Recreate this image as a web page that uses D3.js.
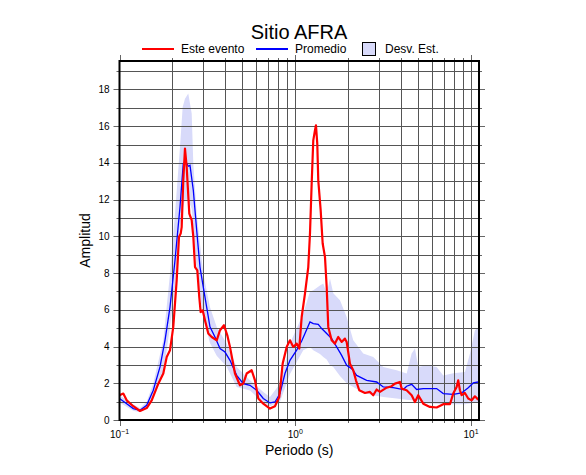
<!DOCTYPE html>
<html>
<head>
<meta charset="utf-8">
<script src="https://cdn.jsdelivr.net/npm/d3@7"></script>
<style>
    body { margin: 0; background: #fff; }
    text { font-family: "Liberation Sans", Arial, Helvetica, sans-serif; }
</style>
</head>
<body>
<div id="chart"></div>
<script>
// Este evento (periodo en s, amplitud)
const eventPeriod = [0.100, 0.1051, 0.1099, 0.1198, 0.1308, 0.1428, 0.1525, 0.1663, 0.1775, 0.1856,
    0.1938, 0.2023, 0.2115, 0.2180, 0.2229, 0.2258, 0.2306, 0.2358, 0.2411, 0.2495,
    0.2575, 0.2630, 0.2689, 0.2771, 0.2843, 0.2896, 0.2973, 0.3064, 0.3200, 0.3346,
    0.3573, 0.3731, 0.3931, 0.4105, 0.4252, 0.4539, 0.4846, 0.5060, 0.5290, 0.5649,
    0.5899, 0.6159, 0.6577, 0.7180, 0.7664, 0.8110, 0.8480, 0.8937, 0.9329, 0.9741,
    1.0185, 1.0539, 1.0875, 1.1356, 1.1858, 1.2125, 1.2398, 1.2661, 1.2947, 1.3115,
    1.3341, 1.3517, 1.3950, 1.4318, 1.4757, 1.5090, 1.5409, 1.6106, 1.6820, 1.7564,
    1.8360, 1.9173, 1.9606, 2.0469, 2.1374, 2.2144, 2.3121, 2.4920, 2.6600, 2.7776,
    2.9040, 3.0325, 3.3112, 3.5351, 3.6909, 3.9405, 4.0290, 4.3022, 4.5935, 4.7969,
    5.0087, 5.3476, 5.8359, 6.3722, 6.9502, 7.5858, 7.9199, 8.2794, 8.4548, 8.6458,
    8.8392, 9.2300, 9.6405, 10.078, 10.524, 10.990];
const eventAmp = [1.35, 1.44, 1.07, 0.75, 0.49, 0.65, 1.07, 1.98, 2.53, 3.43,
    3.80, 5.07, 7.60, 9.97, 10.15, 10.50, 13.05, 14.78, 13.78, 11.24,
    10.88, 9.97, 8.33, 8.15, 6.70, 5.88, 5.97, 5.43, 4.71, 4.52,
    4.34, 4.89, 5.16, 4.61, 3.98, 2.53, 1.89, 1.98, 2.53, 2.71,
    2.16, 1.17, 0.89, 0.62, 0.75, 1.25, 3.07, 3.98, 4.34, 3.98,
    4.16, 3.89, 5.61, 6.88, 8.33, 10.15, 12.88, 15.23, 15.78, 16.05,
    15.05, 13.05, 11.42, 9.61, 8.88, 7.24, 5.07, 4.34, 4.16, 4.52,
    4.25, 4.43, 4.25, 3.07, 2.71, 2.16, 1.62, 1.47, 1.53, 1.35,
    1.66, 1.53, 1.76, 1.84, 1.98, 2.07, 1.71, 1.62, 1.35, 0.98,
    1.35, 0.89, 0.71, 0.68, 0.86, 0.86, 1.44, 1.80, 2.16, 1.62,
    1.35, 1.47, 1.17, 1.07, 1.29, 1.11];

// Promedio
const meanPeriod = [0.100, 0.1099, 0.1198, 0.1308, 0.1428, 0.1557, 0.1700, 0.1815, 0.1938, 0.2069,
    0.2209, 0.2306, 0.2389, 0.2462, 0.2518, 0.2630, 0.2749, 0.2870, 0.2997, 0.3133,
    0.3271, 0.3493, 0.3731, 0.3983, 0.4252, 0.4642, 0.5060, 0.5525, 0.6032, 0.6577,
    0.7180, 0.7664, 0.8185, 0.8738, 0.9329, 1.0185, 1.0875, 1.1356, 1.2125, 1.2661,
    1.3517, 1.4133, 1.5090, 1.6106, 1.7200, 1.8360, 1.9606, 2.0934, 2.2350, 2.5470,
    2.9040, 3.1667, 3.6100, 4.1155, 4.3022, 4.5935, 4.9049, 5.3476, 6.3722, 6.9502,
    7.9199, 8.8392, 9.6405, 10.292, 10.990];
const meanAmp = [1.17, 0.89, 0.62, 0.53, 0.80, 1.62, 2.89, 4.34, 6.15, 8.70,
    11.60, 13.96, 14.05, 13.82, 13.87, 12.51, 10.33, 8.33, 7.24, 6.15,
    5.07, 4.52, 3.89, 3.70, 3.25, 2.43, 1.98, 1.89, 1.62, 1.17,
    0.93, 0.98, 1.44, 2.53, 3.25, 3.80, 4.30, 4.71, 5.34, 5.25,
    5.21, 4.98, 4.71, 4.43, 3.98, 3.52, 2.98, 2.80, 2.43, 2.16,
    2.07, 1.80, 1.76, 1.66, 1.84, 1.94, 1.66, 1.71, 1.71, 1.44,
    1.40, 1.47, 1.76, 2.02, 2.07];

// Desviación estándar (banda inferior / superior)
const stdPeriod = [0.100, 0.1198, 0.1308, 0.1428, 0.1557, 0.1775, 0.1938, 0.2069, 0.2209, 0.2288,
    0.2358, 0.2462, 0.2575, 0.2630, 0.2749, 0.2997, 0.3271, 0.3573, 0.4073, 0.4642,
    0.5525, 0.6577, 0.7180, 0.8185, 0.9329, 1.1105, 1.2125, 1.2661, 1.3820, 1.4434,
    1.5090, 1.5757, 1.6453, 1.7964, 1.9606, 2.1374, 2.4369, 2.7776, 3.1667, 3.7740,
    4.3022, 4.5935, 4.7969, 5.0087, 5.5903, 6.3722, 6.9502, 7.9199, 9.2300, 9.8627,
    10.524, 11.135];
const stdLow = [0.95, 0.50, 0.42, 0.60, 1.30, 2.53, 5.07, 7.24, 10.52, 11.50,
    12.00, 12.00, 11.50, 10.50, 8.15, 5.60, 4.20, 3.50, 2.90, 1.80,
    1.60, 0.95, 0.75, 1.00, 2.50, 3.80, 3.98, 3.80, 3.60, 3.43,
    3.30, 3.00, 2.89, 2.40, 2.00, 1.80, 1.50, 1.35, 1.25, 1.17,
    1.10, 1.07, 1.05, 1.00, 0.90, 0.88, 0.86, 0.86, 0.86, 0.90,
    0.95, 0.98];
const stdHigh = [1.35, 0.85, 0.65, 1.00, 2.00, 4.34, 7.97, 11.24, 14.87, 17.05,
    17.50, 17.78, 16.69, 13.96, 11.24, 7.97, 6.15, 5.07, 4.16, 2.89,
    2.16, 1.53, 1.25, 1.98, 4.16, 5.80, 7.00, 7.06, 7.33, 7.43,
    6.90, 7.70, 6.90, 6.52, 5.61, 4.34, 3.62, 3.43, 2.89, 2.71,
    2.53, 3.62, 3.89, 2.89, 2.98, 2.89, 2.43, 2.55, 2.62, 3.62,
    4.89, 5.07];

// Ejes
const xDomain = [0.1, 11.1];
const yDomain = [0, 19.55];
const yTicks = d3.range(0, 20, 1);
const xMajor = [0.1, 1, 10];
const xMinor = [0.2, 0.3, 0.4, 0.5, 0.6, 0.7, 0.8, 0.9, 2, 3, 4, 5, 6, 7, 8, 9];

const width = 586;
const height = 475;
const margin = { top: 61, right: 107, bottom: 55, left: 119.5 };

const svg = d3.select("#chart")
    .append("svg")
    .attr("width", width)
    .attr("height", height);

const x = d3.scaleLog().domain(xDomain).range([margin.left, width - margin.right]);
const y = d3.scaleLinear().domain(yDomain).range([height - margin.bottom, margin.top]);

const x0 = x.range()[0], x1 = x.range()[1];
const y0 = y.range()[0], y1 = y.range()[1];

svg.append("clipPath")
    .attr("id", "clip")
    .append("rect")
    .attr("x", x0)
    .attr("y", y1)
    .attr("width", x1 - x0)
    .attr("height", y0 - y1);

// Banda de desviación
const band = stdPeriod.map((p, i) => ({ p: p, lo: stdLow[i], hi: stdHigh[i] }));
svg.append("path")
    .datum(band)
    .attr("clip-path", "url(#clip)")
    .attr("fill", "#d8dafa")
    .attr("d", d3.area()
        .x(d => x(d.p))
        .y0(d => y(d.lo))
        .y1(d => y(d.hi)));

// Grilla
const gridColor = "#555";
svg.append("g")
    .selectAll("line")
    .data(yTicks.slice(1))
    .join("line")
    .attr("x1", x0).attr("x2", x1)
    .attr("y1", d => Math.round(y(d)) + 0.5)
    .attr("y2", d => Math.round(y(d)) + 0.5)
    .attr("stroke", gridColor)
    .attr("stroke-width", 1);

svg.append("g")
    .selectAll("line")
    .data(xMajor.slice(1).concat(xMinor))
    .join("line")
    .attr("x1", d => Math.round(x(d)) + 0.5)
    .attr("x2", d => Math.round(x(d)) + 0.5)
    .attr("y1", y1).attr("y2", y0)
    .attr("stroke", gridColor)
    .attr("stroke-width", 1);

// Ticks fuera del marco
const tickColor = "#666";
const yt = svg.append("g").attr("stroke", tickColor);
yTicks.forEach(d => {
    const len = d % 2 === 0 ? 6 : 3;
    const yy = Math.round(y(d)) + 0.5;
    yt.append("line").attr("x1", x0 - len).attr("x2", x0).attr("y1", yy).attr("y2", yy);
    yt.append("line").attr("x1", x1).attr("x2", x1 + len).attr("y1", yy).attr("y2", yy);
});
xMajor.concat(xMinor).forEach(d => {
    const len = xMajor.includes(d) ? 6 : 3;
    const xx = Math.round(x(d)) + 0.5;
    yt.append("line").attr("x1", xx).attr("x2", xx).attr("y1", y1 - len).attr("y2", y1);
    yt.append("line").attr("x1", xx).attr("x2", xx).attr("y1", y0).attr("y2", y0 + len);
});

// Curvas
const line = d3.line()
    .x(d => x(d[0]))
    .y(d => y(d[1]));

svg.append("path")
    .datum(meanPeriod.map((p, i) => [p, meanAmp[i]]))
    .attr("clip-path", "url(#clip)")
    .attr("fill", "none")
    .attr("stroke", "#0000ff")
    .attr("stroke-width", 1.3)
    .attr("d", line);

svg.append("path")
    .datum(eventPeriod.map((p, i) => [p, eventAmp[i]]))
    .attr("clip-path", "url(#clip)")
    .attr("fill", "none")
    .attr("stroke", "#ff0000")
    .attr("stroke-width", 2.2)
    .attr("stroke-linejoin", "round")
    .attr("d", line);

// Marco
svg.append("rect")
    .attr("x", x0)
    .attr("y", y1)
    .attr("width", x1 - x0)
    .attr("height", y0 - y1)
    .attr("fill", "none")
    .attr("stroke", "#000")
    .attr("stroke-width", 2);

// Etiquetas de ejes
svg.append("g")
    .selectAll("text")
    .data(yTicks.filter(d => d % 2 === 0))
    .join("text")
    .attr("x", x0 - 10)
    .attr("y", d => y(d))
    .attr("dy", "0.35em")
    .attr("text-anchor", "end")
    .style("font-size", "10px")
    .text(d => d);

const xl = svg.append("g")
    .selectAll("text")
    .data(xMajor)
    .join("text")
    .attr("x", d => x(d))
    .attr("y", y0 + 17.5)
    .attr("text-anchor", "middle")
    .style("font-size", "10px");
xl.append("tspan").text("10");
xl.append("tspan")
    .attr("dy", -4)
    .style("font-size", "7px")
    .text(d => d === 0.1 ? "\u22121" : d === 1 ? "0" : "1");

svg.append("text")
    .attr("x", (x0 + x1) / 2)
    .attr("y", 455)
    .attr("text-anchor", "middle")
    .style("font-size", "14px")
    .text("Periodo (s)");

svg.append("text")
    .attr("transform", `translate(90,${(y0 + y1) / 2}) rotate(-90)`)
    .attr("text-anchor", "middle")
    .style("font-size", "14px")
    .text("Amplitud");

// Título
svg.append("text")
    .attr("x", 299)
    .attr("y", 39)
    .attr("text-anchor", "middle")
    .style("font-size", "20px")
    .text("Sitio AFRA");

// Leyenda
const leg = svg.append("g");
leg.append("line").attr("x1", 142).attr("x2", 174).attr("y1", 49).attr("y2", 49)
    .attr("stroke", "#ff0000").attr("stroke-width", 2);
leg.append("text").attr("x", 181).attr("y", 53).style("font-size", "12px").text("Este evento");
leg.append("line").attr("x1", 256).attr("x2", 288).attr("y1", 49).attr("y2", 49)
    .attr("stroke", "#0000ff").attr("stroke-width", 2);
leg.append("text").attr("x", 295).attr("y", 53).style("font-size", "12px").text("Promedio");
leg.append("rect").attr("x", 362.5).attr("y", 42.5).attr("width", 13).attr("height", 13)
    .attr("fill", "#d8dafa").attr("stroke", "#000").attr("stroke-width", 1);
leg.append("text").attr("x", 385).attr("y", 53).style("font-size", "12px").text("Desv. Est.");
</script>
</body>
</html>
